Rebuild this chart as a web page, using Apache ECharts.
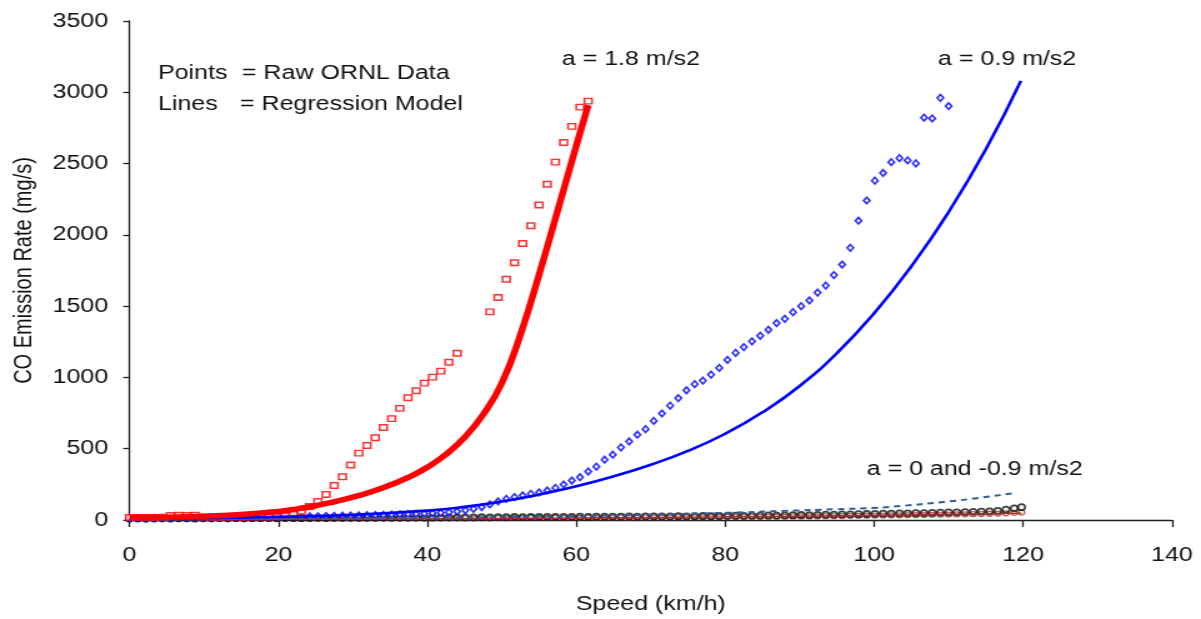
<!DOCTYPE html>
<html>
<head>
<meta charset="utf-8">
<script src="https://cdn.jsdelivr.net/npm/echarts@6/dist/echarts.min.js"></script>
<style>
html,body{margin:0;padding:0;background:#fff;overflow:hidden;}
#wrap{width:961px;height:619px;transform:scaleX(1.24974);transform-origin:0 0;}
#chart{width:961px;height:619px;}
</style>
</head>
<body>
<div id="wrap"><div id="chart"></div></div>
<script>
// ---- Data ----
// a = 1.8 m/s2 raw ORNL points
const redSpeed = [0,1.1,2.2,3.3,4.4,5.5,6.6,7.7,8.8,9.9,11,12.1,13.2,14.3,15.4,16.5,17.6,18.7,19.8,20.9,22,23.1,24.2,25.3,26.4,27.5,28.6,29.7,30.8,31.9,33,34.1,35.2,36.3,37.4,38.5,39.6,40.7,41.8,42.9,44,48.4,49.5,50.6,51.7,52.8,53.9,55,56.1,57.2,58.3,59.4,60.5,61.6];
const redCO = [18,18,17,18,19,32,33,32,33,20,19,18,19,20,19,20,21,20,22,30,40,62,95,130,179,242,304,386,469,523,577,649,711,783,858,907,960,1002,1044,1107,1169,1460,1560,1688,1804,1939,2064,2210,2355,2510,2648,2761,2896,2938];
// a = 1.8 m/s2 regression model
const redFitSpeed = [0,5,10,15,20,22.5,25,27.5,30,32.5,35,37.5,40,42.5,45,47.5,50,52.5,55,57.5,60,61.6];
const redFitCO = [15,20,27,38,60,78,100,128,160,198,245,300,370,460,580,740,960,1300,1720,2170,2625,2910];
// a = 0.9 m/s2 raw ORNL points
const blueSpeed = [0,1.1,2.2,3.3,4.4,5.5,6.6,7.7,8.8,9.9,11,12.1,13.2,14.3,15.4,16.5,17.6,18.7,19.8,20.9,22,23.1,24.2,25.3,26.4,27.5,28.6,29.7,30.8,31.9,33,34.1,35.2,36.3,37.4,38.5,39.6,40.7,41.8,42.9,44,45.1,46.2,47.3,48.4,49.5,50.6,51.7,52.8,53.9,55,56.1,57.2,58.3,59.4,60.5,61.6,62.7,63.8,64.9,66,67.1,68.2,69.3,70.4,71.5,72.6,73.7,74.8,75.9,77,78.1,79.2,80.3,81.4,82.5,83.6,84.7,85.8,86.9,88,89.1,90.2,91.3,92.4,93.5,94.6,95.7,96.8,97.9,99,100.1,101.2,102.3,103.4,104.5,105.6,106.7,107.8,108.9,110];
const blueCO = [12,13,12,14,13,15,16,15,16,17,17,18,18,19,20,19,21,22,22,23,24,25,26,26,28,29,30,31,32,34,35,36,38,40,41,43,45,47,50,54,60,68,78,91,109,130,148,160,172,183,193,207,225,249,277,300,340,374,423,458,509,551,598,637,695,747,802,855,910,953,978,1020,1067,1123,1172,1213,1253,1292,1334,1381,1411,1458,1500,1540,1595,1644,1718,1792,1909,2099,2241,2380,2434,2510,2538,2522,2501,2822,2817,2961,2903];
// a = 0.9 m/s2 regression model
const blueFitSpeed = [0,10,20,30,40,45,50,55,60,65,70,75,80,85,90,95,100,105,110,115,119.7];
const blueFitCO = [8,14,22,36,66,92,130,178,236,306,388,485,605,755,940,1170,1450,1780,2160,2600,3080];
// a = 0 and a = -0.9 m/s2 raw ORNL points
const lowSpeed = [0,1.1,2.2,3.3,4.4,5.5,6.6,7.7,8.8,9.9,11,12.1,13.2,14.3,15.4,16.5,17.6,18.7,19.8,20.9,22,23.1,24.2,25.3,26.4,27.5,28.6,29.7,30.8,31.9,33,34.1,35.2,36.3,37.4,38.5,39.6,40.7,41.8,42.9,44,45.1,46.2,47.3,48.4,49.5,50.6,51.7,52.8,53.9,55,56.1,57.2,58.3,59.4,60.5,61.6,62.7,63.8,64.9,66,67.1,68.2,69.3,70.4,71.5,72.6,73.7,74.8,75.9,77,78.1,79.2,80.3,81.4,82.5,83.6,84.7,85.8,86.9,88,89.1,90.2,91.3,92.4,93.5,94.6,95.7,96.8,97.9,99,100.1,101.2,102.3,103.4,104.5,105.6,106.7,107.8,108.9,110,111.1,112.2,113.3,114.4,115.5,116.6,117.7,118.8,119.8];
const zeroCO = [10,11,10,11,12,11,12,12,11,12,12,13,12,13,12,13,13,14,13,14,14,13,14,15,14,15,15,16,15,16,16,17,16,17,17,18,17,18,18,19,19,18,19,20,19,20,20,21,20,21,21,22,21,22,22,23,22,23,23,24,24,25,24,25,26,25,26,27,26,27,28,27,28,29,30,29,30,31,32,31,33,34,35,34,36,37,38,39,40,41,42,43,44,45,46,47,48,49,50,52,53,54,56,57,59,61,64,72,82,90];
const decelCO = [6,7,6,7,7,6,7,7,6,7,7,8,7,8,7,8,8,8,7,8,8,8,9,9,8,9,9,10,9,10,10,10,11,10,11,11,12,11,12,12,12,13,12,13,13,14,13,14,14,15,15,15,16,15,16,16,17,16,17,17,18,17,18,18,19,18,19,20,19,20,20,21,21,22,21,22,23,22,23,24,24,25,25,26,26,27,27,28,29,29,30,31,31,32,33,34,34,35,36,37,38,39,40,41,42,44,45,47,50,52];
// regression models for a = 0 and a = -0.9 m/s2
const zeroFitSpeed = [0,20,40,60,70,80,88,95,100,104,109,113,119];
const zeroFitCO = [3,8,15,27,37,50,64,76,85,100,125,148,190];
const decelFitSpeed = [0,20,40,60,80,100,119.8];
const decelFitCO = [2,5,9,14,22,33,48];
// axis ticks
const xTicks = [0,20,40,60,80,100,120,140];
const yTicks = [0,500,1000,1500,2000,2500,3000,3500];

const pair = (xs, ys) => xs.map((x, i) => [x, ys[i]]);
const FONT = '"Liberation Sans", Arial, sans-serif';
const TXT = '#111';

const chart = echarts.init(document.getElementById('chart'), null, {renderer: 'canvas'});
chart.setOption({
  animation: false,
  backgroundColor: '#fff',
  grid: {left: 103.6, right: 23.2, top: 21, bottom: 96, containLabel: false},
  xAxis: {
    type: 'value', min: xTicks[0], max: xTicks[xTicks.length - 1], interval: xTicks[1] - xTicks[0],
    name: 'Speed (km/h)', nameLocation: 'middle', nameGap: 74,
    nameTextStyle: {fontSize: 20, color: TXT, fontFamily: FONT},
    axisLine: {show: true, onZero: false, lineStyle: {color: '#222', width: 1.3}},
    axisTick: {show: true, inside: false, length: 7, lineStyle: {color: '#222', width: 1.3}},
    axisLabel: {fontSize: 20, color: TXT, fontFamily: FONT, margin: 25, formatter: v => String(v)},
    splitLine: {show: false}
  },
  yAxis: {
    type: 'value', min: yTicks[0], max: yTicks[yTicks.length - 1], interval: yTicks[1] - yTicks[0],
    name: 'CO Emission Rate (mg/s)', nameLocation: 'middle', nameGap: 74,
    nameTextStyle: {fontSize: 20, color: TXT, fontFamily: FONT},
    axisLine: {show: true, onZero: false, lineStyle: {color: '#222', width: 1.3}},
    axisTick: {show: true, inside: false, length: 5, lineStyle: {color: '#222', width: 1.3}},
    axisLabel: {fontSize: 20, color: TXT, fontFamily: FONT, margin: 17, formatter: v => String(v)},
    splitLine: {show: false}
  },
  graphic: [
    {type: 'text', x: 126.4, y: 73, style: {text: 'Points', fontSize: 20, fontFamily: FONT, fill: TXT, verticalAlign: 'middle'}},
    {type: 'text', x: 193.6, y: 73, style: {text: '= Raw ORNL Data', fontSize: 20, fontFamily: FONT, fill: TXT, verticalAlign: 'middle'}},
    {type: 'text', x: 126.4, y: 104.5, style: {text: 'Lines', fontSize: 20, fontFamily: FONT, fill: TXT, verticalAlign: 'middle'}},
    {type: 'text', x: 192, y: 104.5, style: {text: '= Regression Model', fontSize: 20, fontFamily: FONT, fill: TXT, verticalAlign: 'middle'}},
    {type: 'text', x: 449.5, y: 59, style: {text: 'a = 1.8 m/s2', fontSize: 20, fontFamily: FONT, fill: TXT, verticalAlign: 'middle'}},
    {type: 'text', x: 750.6, y: 59, style: {text: 'a = 0.9 m/s2', fontSize: 20, fontFamily: FONT, fill: TXT, verticalAlign: 'middle'}},
    {type: 'text', x: 693.5, y: 469, style: {text: 'a = 0 and -0.9 m/s2', fontSize: 20, fontFamily: FONT, fill: TXT, verticalAlign: 'middle'}}
  ],
  series: [
    {type: 'line', name: 'fit -0.9', data: pair(decelFitSpeed, decelFitCO), smooth: true, showSymbol: false,
      lineStyle: {color: '#a0302c', width: 1.5}},
    {type: 'line', name: 'fit 0', data: pair(zeroFitSpeed, zeroFitCO), smooth: true, showSymbol: false,
      lineStyle: {color: '#2f5d9a', width: 2, type: [5, 4]}},
    {type: 'scatter', name: 'raw -0.9', data: pair(lowSpeed, decelCO), symbol: 'circle', symbolSize: [5, 5],
      itemStyle: {color: 'rgba(0,0,0,0)', borderColor: '#a33a30', borderWidth: 1.3}},
    {type: 'scatter', name: 'raw 0', data: pair(lowSpeed, zeroCO), symbol: 'circle', symbolSize: [5.5, 6],
      itemStyle: {color: 'rgba(0,0,0,0)', borderColor: '#111', borderWidth: 1.7}},
    {type: 'line', name: 'fit 0.9', data: pair(blueFitSpeed, blueFitCO), smooth: 0.5, showSymbol: false,
      lineStyle: {color: '#0000ff', width: 2.6}},
    {type: 'scatter', name: 'raw 0.9', data: pair(blueSpeed, blueCO), symbol: 'diamond', symbolSize: [5, 6.5],
      itemStyle: {color: '#ffffff', borderColor: '#0000ff', borderWidth: 1.7}},
    {type: 'line', name: 'fit 1.8', data: pair(redFitSpeed, redFitCO), smooth: 0.5, showSymbol: false,
      lineStyle: {color: '#ff0000', width: 5.5}},
    {type: 'scatter', name: 'raw 1.8', data: pair(redSpeed, redCO), symbol: 'rect', symbolSize: [6, 5.5],
      itemStyle: {color: '#ffffff', borderColor: '#ff0000', borderWidth: 1.5}}
  ]
});
</script>
</body>
</html>
